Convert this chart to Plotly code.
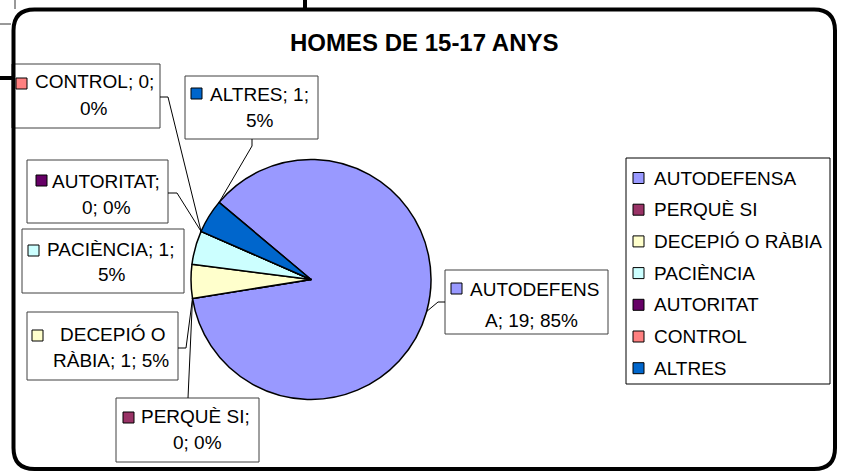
import math
import plotly.graph_objects as go

# ---------------- data ----------------
categories = ["AUTODEFENSA", "PERQUÈ SI", "DECEPIÓ O RÀBIA", "PACIÈNCIA",
              "AUTORITAT", "CONTROL", "ALTRES"]
values = [19, 0, 1, 1, 0, 0, 1]
percent_labels = [85, 0, 5, 5, 0, 0, 5]
colors = ["#9999FF", "#993366", "#FFFFCC", "#CCFFFF", "#660066", "#FF8080", "#0066CC"]
title_text = "HOMES DE 15-17 ANYS"

# ---------------- layout constants (pixels) ----------------
W, H = 843, 472
CX, CY, R = 311, 279.5, 120
ROT = 310
FONT = "Liberation Sans, Arial, sans-serif"
LFS = 19

# per-label box layout: box (x0,y0,x1,y1), marker top-left, line-1 text start,
# line-1 y, line-2 centre (x,y), split index, leader (points from box), anchor fraction
label_layout = {
    "AUTODEFENSA": dict(box=(445, 270, 608, 334), mk=(451, 283), l1=(468, 289), l2=(531, 320),
                        split=10, lead=[(445, 302), (438, 302)], frac=0.5),
    "PERQUÈ SI": dict(box=(116, 398, 259, 462), mk=(123, 412), l1=(139, 416), l2=(197, 442),
                      split=10, lead=[(188, 398)], frac=0.5),
    "DECEPIÓ O RÀBIA": dict(box=(27, 312, 178, 380), mk=(32, 330), l1=(58, 334), l2=(111, 360),
                            split=9, lead=[(178, 348), (186, 348)], frac=0.0),
    "PACIÈNCIA": dict(box=(22, 229, 184, 293), mk=(28, 245), l1=(45, 249), l2=(112, 274),
                      split=13, lead=None, frac=None),
    "AUTORITAT": dict(box=(27, 160, 168, 223), mk=(36, 175), l1=(50, 181), l2=(106, 207),
                      split=10, lead=[(168, 193), (177, 193)], frac=0.5),
    "CONTROL": dict(box=(12, 64, 160, 128), mk=(16, 78), l1=(33, 81), l2=(94, 108),
                    split=11, lead=[(160, 97), (168, 97)], frac=0.5),
    "ALTRES": dict(box=(185, 76, 318, 139), mk=(191, 88), l1=(208, 94), l2=(260, 120),
                   split=10, lead=[(252, 139), (252, 146)], frac=1.0),
}

fig = go.Figure()

# invisible pixel-coordinate axes
fig.add_trace(go.Scatter(x=[0, W], y=[0, H], mode="markers",
                         marker=dict(opacity=0), hoverinfo="skip", showlegend=False))

fig.add_trace(go.Pie(
    labels=categories, values=values, sort=False, direction="clockwise",
    rotation=ROT, textinfo="none", showlegend=False,
    marker=dict(colors=colors, line=dict(color="black", width=1.5)),
    domain=dict(x=[(CX - R) / W, (CX + R) / W], y=[1 - (CY + R) / H, 1 - (CY - R) / H]),
))

total = sum(values)
starts = []
acc = 0
for v in values:
    starts.append(ROT + 360 * acc / total)
    acc += v

shapes = []
annotations = []

def rect(x0, y0, x1, y1, fill, line="black", lw=1):
    shapes.append(dict(type="rect", xref="x", yref="y", x0=x0, y0=y0, x1=x1, y1=y1,
                       fillcolor=fill, line=dict(color=line, width=lw)))

def text(x, y, s, size=LFS, anchor="left", bold=False):
    annotations.append(dict(x=x, y=y, xref="x", yref="y", text=("<b>%s</b>" % s) if bold else s,
                            showarrow=False, xanchor=anchor, yanchor="middle",
                            font=dict(family=FONT, size=size, color="black")))

# data labels
for i, cat in enumerate(categories):
    L = label_layout[cat]
    full = f"{cat}; {values[i]}; {percent_labels[i]}%"
    line1, line2 = full[:L["split"]].strip(), full[L["split"]:].strip()
    x0, y0, x1, y1 = L["box"]
    rect(x0, y0, x1, y1, "white", "#404040", 1)
    mx, my = L["mk"]
    rect(mx, my, mx + 11, my + 11, colors[i], "black", 1)
    text(L["l1"][0], L["l1"][1], line1)
    text(L["l2"][0], L["l2"][1], line2, anchor="center")
    if L["lead"]:
        ang = math.radians(starts[i] + L["frac"] * 360 * values[i] / total)
        ax, ay = CX + R * math.sin(ang), CY - R * math.cos(ang)
        pts = L["lead"] + [(ax, ay)]
        path = "M " + " L ".join(f"{px:.2f},{py:.2f}" for px, py in pts)
        shapes.append(dict(type="path", xref="x", yref="y", path=path,
                           line=dict(color="black", width=1)))

# legend
rect(626, 158, 830, 384, "white", "black", 1)
for i, cat in enumerate(categories):
    yc = 178 + i * 31.7
    rect(633, yc - 5.5, 644, yc + 5.5, colors[i], "black", 1)
    text(652, yc, cat)

# title
text(424, 42, title_text, size=24, anchor="center", bold=True)

# stray lines from the surrounding page
shapes.append(dict(type="line", xref="x", yref="y", x0=15, y0=0, x1=15, y1=9,
                   line=dict(color="#333333", width=1)))
shapes.append(dict(type="line", xref="x", yref="y", x0=0, y0=24, x1=11, y1=24,
                   line=dict(color="#333333", width=1)))
shapes.append(dict(type="line", xref="x", yref="y", x0=0, y0=78, x1=12, y1=78,
                   line=dict(color="black", width=4)))
shapes.append(dict(type="line", xref="x", yref="y", x0=305, y0=0, x1=305, y1=9,
                   line=dict(color="black", width=4)))

# rounded chart border
l, t, r_, b, rr = 13.5, 9.5, 835, 469, 21
border = (f"M {l+rr},{t} L {r_-rr},{t} Q {r_},{t} {r_},{t+rr} L {r_},{b-rr} "
          f"Q {r_},{b} {r_-rr},{b} L {l+rr},{b} Q {l},{b} {l},{b-rr} L {l},{t+rr} "
          f"Q {l},{t} {l+rr},{t} Z")
shapes.append(dict(type="path", xref="x", yref="y", path=border,
                   line=dict(color="black", width=4)))

fig.update_layout(
    width=W, height=H, margin=dict(l=0, r=0, t=0, b=0),
    paper_bgcolor="white", plot_bgcolor="rgba(0,0,0,0)",
    xaxis=dict(range=[0, W], visible=False, fixedrange=True, domain=[0, 1]),
    yaxis=dict(range=[H, 0], visible=False, fixedrange=True, domain=[0, 1]),
    shapes=shapes, annotations=annotations, showlegend=False,
)

fig.write_html("out.html", config={"displayModeBar": False},
               post_script="document.body.style.margin='0';document.body.style.overflow='hidden';")
